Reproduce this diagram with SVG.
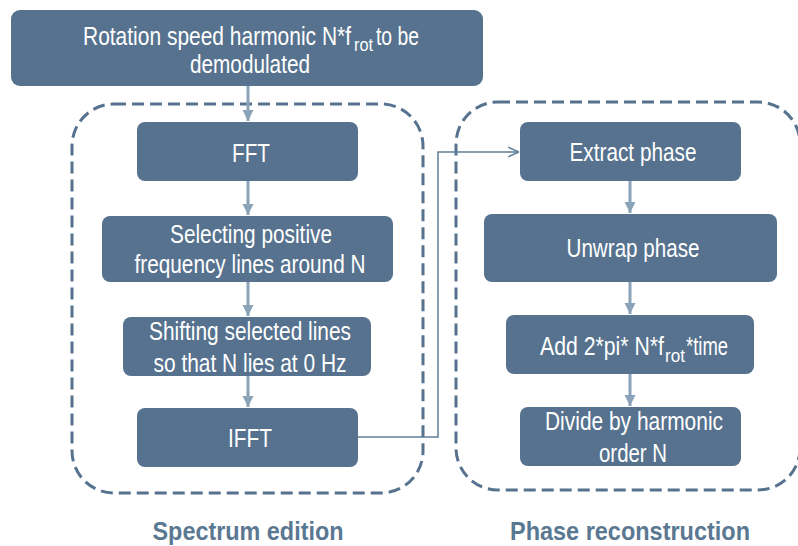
<svg xmlns="http://www.w3.org/2000/svg" width="798" height="546" viewBox="0 0 798 546">
<defs>
<style>
.box{fill:#56728e;}
.t{font-family:"Liberation Sans",Arial,sans-serif;font-size:25px;fill:#ffffff;text-anchor:middle;}
.n{font-size:21px;text-anchor:start;}
.sub{font-family:"Liberation Sans",Arial,sans-serif;font-size:16px;fill:#ffffff;text-anchor:start;}
.grp{fill:none;stroke:#56728e;stroke-width:3;stroke-dasharray:12 6;}
.title{font-family:"Liberation Sans",Arial,sans-serif;font-size:25px;font-weight:bold;fill:#5a7892;text-anchor:middle;}
.flow{stroke:#8ba3b8;stroke-width:3;fill:none;marker-end:url(#ah);}
.link{stroke:#5f7f99;stroke-width:1.5;fill:none;marker-end:url(#oh);}
</style>
<marker id="ah" viewBox="0 0 10 10" refX="10" refY="5" markerWidth="3.8" markerHeight="3.8" orient="auto" markerUnits="strokeWidth">
<path d="M0,0 L10,5 L0,10 z" fill="#8ba3b8"/>
</marker>
<marker id="oh" viewBox="0 0 10 10" refX="10" refY="5" markerWidth="8" markerHeight="8" orient="auto" markerUnits="strokeWidth">
<path d="M1,1 L10,5 L1,9" fill="none" stroke="#5f7f99" stroke-width="1.2"/>
</marker>
</defs>

<g id="spectrum-edition">
<rect class="grp" x="72" y="104" width="351" height="389" rx="42"/>
<text class="title" x="248" y="540" textLength="191" lengthAdjust="spacingAndGlyphs">Spectrum edition</text>
</g>
<g id="phase-reconstruction">
<rect class="grp" x="456" y="102" width="344" height="388" rx="42"/>
<text class="title" x="630" y="540" textLength="240" lengthAdjust="spacingAndGlyphs">Phase reconstruction</text>
</g>

<g id="connectors">
<line class="flow" x1="248" y1="86" x2="248" y2="121"/>
<line class="flow" x1="248" y1="181" x2="248" y2="215"/>
<line class="flow" x1="248" y1="282" x2="248" y2="316"/>
<line class="flow" x1="248" y1="376" x2="248" y2="407"/>
<line class="flow" x1="630" y1="181" x2="630" y2="213"/>
<line class="flow" x1="630" y1="282" x2="630" y2="314"/>
<line class="flow" x1="630" y1="374" x2="630" y2="406"/>
<path class="link" d="M358,437 H438 V152 H519"/>
</g>

<g id="source">
<rect class="box" x="11" y="10" width="472" height="76" rx="9"/>
<text class="t n" transform="translate(83,45) scale(1,1.19)" textLength="268" lengthAdjust="spacingAndGlyphs">Rotation speed harmonic N*f</text>
<text class="sub" transform="translate(354,51) scale(1,1.1)" textLength="19" lengthAdjust="spacingAndGlyphs">rot</text>
<text class="t n" transform="translate(376,45) scale(1,1.19)" textLength="43" lengthAdjust="spacingAndGlyphs">to be</text>
<text class="t" x="250" y="73" textLength="120" lengthAdjust="spacingAndGlyphs">demodulated</text>
</g>
<g id="fft">
<rect class="box" x="137" y="122" width="221" height="59" rx="8"/>
<text class="t" x="251" y="162" textLength="38" lengthAdjust="spacingAndGlyphs">FFT</text>
</g>
<g id="select">
<rect class="box" x="102" y="216" width="291" height="66" rx="8"/>
<text class="t" x="251" y="243" textLength="162" lengthAdjust="spacingAndGlyphs">Selecting positive</text>
<text class="t" x="250" y="273" textLength="231" lengthAdjust="spacingAndGlyphs">frequency lines around N</text>
</g>
<g id="shift">
<rect class="box" x="123" y="317" width="248" height="59" rx="8"/>
<text class="t" x="250" y="340" textLength="202" lengthAdjust="spacingAndGlyphs">Shifting selected lines</text>
<text class="t" x="250" y="372" textLength="193" lengthAdjust="spacingAndGlyphs">so that N lies at 0 Hz</text>
</g>
<g id="ifft">
<rect class="box" x="137" y="408" width="221" height="59" rx="8"/>
<text class="t" x="250" y="447" textLength="44" lengthAdjust="spacingAndGlyphs">IFFT</text>
</g>
<g id="extract">
<rect class="box" x="520" y="122" width="221" height="59" rx="8"/>
<text class="t" x="633" y="161" textLength="127" lengthAdjust="spacingAndGlyphs">Extract phase</text>
</g>
<g id="unwrap">
<rect class="box" x="484" y="214" width="293" height="68" rx="8"/>
<text class="t" x="633" y="257" textLength="133" lengthAdjust="spacingAndGlyphs">Unwrap phase</text>
</g>
<g id="add">
<rect class="box" x="506" y="315" width="248" height="59" rx="8"/>
<text class="t n" transform="translate(540,355) scale(1,1.19)" textLength="124" lengthAdjust="spacingAndGlyphs">Add 2*pi* N*f</text>
<text class="sub" transform="translate(665,362) scale(1,1.1)" textLength="20" lengthAdjust="spacingAndGlyphs">rot</text>
<text class="t n" transform="translate(686,355) scale(1,1.19)" textLength="42" lengthAdjust="spacingAndGlyphs">*time</text>
</g>
<g id="divide">
<rect class="box" x="520" y="407" width="221" height="59" rx="8"/>
<text class="t" x="634" y="430" textLength="178" lengthAdjust="spacingAndGlyphs">Divide by harmonic</text>
<text class="t" x="633" y="462" textLength="68" lengthAdjust="spacingAndGlyphs">order N</text>
</g>
</svg>
